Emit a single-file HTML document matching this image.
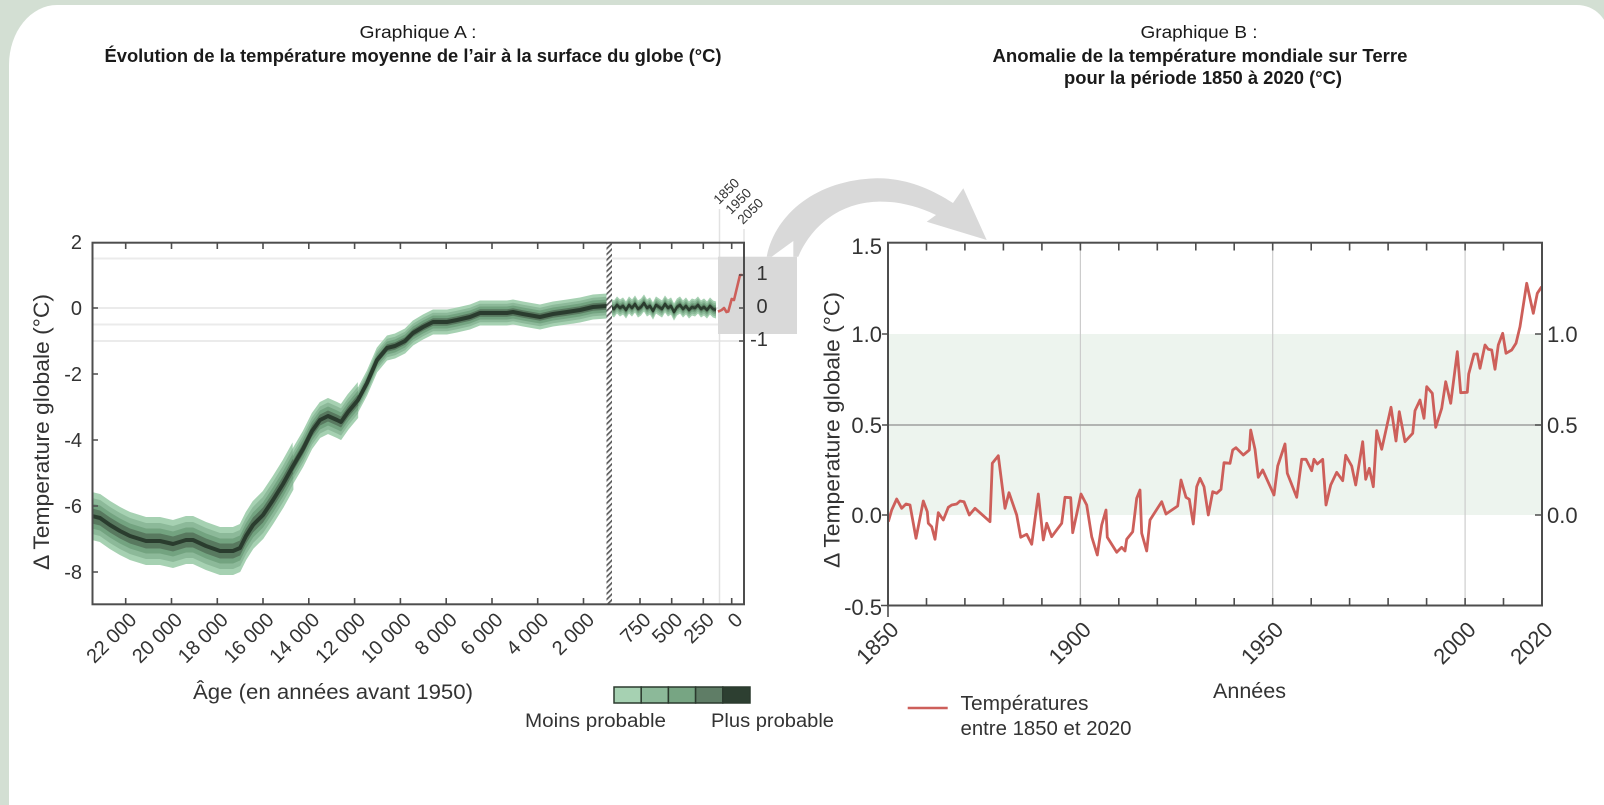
<!DOCTYPE html>
<html><head><meta charset="utf-8">
<style>
html,body{margin:0;padding:0;}
body{width:1604px;height:762px;overflow:hidden;background:#d3dfd3;position:relative;font-family:"Liberation Sans",Arial,sans-serif;}
#card{position:absolute;left:9px;top:5px;width:1600px;height:800px;background:#fff;border-top-left-radius:48px 60px;border-top-right-radius:32px;}
svg{position:absolute;left:0;top:0;}
</style></head>
<body>
<div id="card"></div>
<svg width="1604" height="762" viewBox="0 0 1604 762" font-family="Liberation Sans, Arial, sans-serif">
<defs>
<clipPath id="clipA"><rect x="93" y="243" width="651" height="361"/></clipPath>
<pattern id="hatch" width="4" height="4" patternUnits="userSpaceOnUse" patternTransform="rotate(45)">
<rect width="4" height="4" fill="#fff"/><rect width="1.7" height="4" fill="#5a5a5a"/></pattern>
</defs>

<!-- Titles -->
<g fill="#1a1a1a" text-anchor="middle">
<text x="418" y="38" font-size="17.5" textLength="117" lengthAdjust="spacingAndGlyphs">Graphique A :</text>
<text x="413" y="62" font-size="18" font-weight="bold" textLength="617" lengthAdjust="spacingAndGlyphs">Évolution de la température moyenne de l’air à la surface du globe (°C)</text>
<text x="1199" y="38" font-size="17.5" textLength="117" lengthAdjust="spacingAndGlyphs">Graphique B :</text>
<text x="1200" y="62" font-size="18" font-weight="bold" textLength="415" lengthAdjust="spacingAndGlyphs">Anomalie de la température mondiale sur Terre</text>
<text x="1203" y="84" font-size="18" font-weight="bold" textLength="278" lengthAdjust="spacingAndGlyphs">pour la période 1850 à 2020 (°C)</text>
</g>

<!-- ============ CHART A ============ -->
<g stroke="#ebebeb" stroke-width="2">
<line x1="93" y1="258.5" x2="744" y2="258.5"/>
<line x1="93" y1="308" x2="744" y2="308"/>
<line x1="93" y1="324.5" x2="744" y2="324.5"/>
<line x1="93" y1="341" x2="744" y2="341"/>
</g>
<g stroke="#e2e2e2" stroke-width="1.5">
<line x1="719.5" y1="209" x2="719.5" y2="604"/>
<line x1="744" y1="229" x2="744" y2="243"/>
</g>

<!-- gray box & arrow -->
<rect x="718" y="256.7" width="79" height="77.3" fill="#d9d9d9"/>
<path d="M766.7,256.7 C775,215 815,180 876.7,178.3 C905,178 930,188 953,203 L963.3,188.3 L986.7,240 L926.7,221.7 L936,215 C915,205 895,201 876.7,201.7 C840,203 812,225 798.3,256.7 Z" fill="#d9d9d9"/>
<path d="M771.7,256.7 L793.3,256.7 L793.3,241 Z" fill="#fff"/>

<!-- uncertainty bands -->
<g clip-path="url(#clipA)">
<g transform="scale(1,10)" fill="none" stroke-linejoin="round" stroke-linecap="butt">
<g stroke="#a6d1b2">
<path stroke-width="4.8" d="M88,51.5 L92,51.6 100,51.8 110,52.5 120,53.1 130,53.6 146,54.1 160,54.1 173,54.4 186,54.0 193,54.0 206,54.6 220,55.1 233,55.1 240,54.8 246,53.6 253,52.5 263,51.5 273,50.0 283,48.4 293,46.6"/>
<path stroke-width="3.6" d="M283,48.4 L293,46.6 303,44.9 312,43.1 320,42.0 328,41.6 337,42.0 341,42.2 348,41.2 358,40.0"/>
<path stroke-width="2.5" d="M348,41.2 L358,40.0 367,38.3 377,36.0 387,34.8 395,34.6 405,34.1 413,33.3 423,32.7 433,32.2 447,32.2 457,32.0 470,31.7 480,31.3 493,31.3 507,31.3 513,31.2 523,31.4 540,31.7 553,31.4 567,31.2 580,31.0 593,30.7 607,30.6"/>
<path stroke-width="1.7" d="M611,30.7 L614,30.9 617,30.5 620,30.8 623,30.6 626,31.0 629,30.5 632,30.8 635,30.4 638,30.9 641,30.7 644,30.3 647,30.8 650,30.6 653,31.1 656,30.5 659,30.7 662,30.9 665,30.4 668,30.8 671,30.6 674,31.2 677,30.7 680,30.5 683,30.9 686,30.6 689,31.0 692,30.7 695,30.8 698,30.5 701,30.9 704,30.7 707,31.0 710,30.6 713,30.9 716,31.0"/>
</g>
<g stroke="#8cb999">
<path stroke-width="3.6" d="M88,51.5 L92,51.6 100,51.8 110,52.5 120,53.1 130,53.6 146,54.1 160,54.1 173,54.4 186,54.0 193,54.0 206,54.6 220,55.1 233,55.1 240,54.8 246,53.6 253,52.5 263,51.5 273,50.0 283,48.4 293,46.6"/>
<path stroke-width="2.7" d="M283,48.4 L293,46.6 303,44.9 312,43.1 320,42.0 328,41.6 337,42.0 341,42.2 348,41.2 358,40.0"/>
<path stroke-width="1.85" d="M348,41.2 L358,40.0 367,38.3 377,36.0 387,34.8 395,34.6 405,34.1 413,33.3 423,32.7 433,32.2 447,32.2 457,32.0 470,31.7 480,31.3 493,31.3 507,31.3 513,31.2 523,31.4 540,31.7 553,31.4 567,31.2 580,31.0 593,30.7 607,30.6"/>
<path stroke-width="1.3" d="M611,30.7 L614,30.9 617,30.5 620,30.8 623,30.6 626,31.0 629,30.5 632,30.8 635,30.4 638,30.9 641,30.7 644,30.3 647,30.8 650,30.6 653,31.1 656,30.5 659,30.7 662,30.9 665,30.4 668,30.8 671,30.6 674,31.2 677,30.7 680,30.5 683,30.9 686,30.6 689,31.0 692,30.7 695,30.8 698,30.5 701,30.9 704,30.7 707,31.0 710,30.6 713,30.9 716,31.0"/>
</g>
<g stroke="#73a380">
<path stroke-width="2.5" d="M88,51.5 L92,51.6 100,51.8 110,52.5 120,53.1 130,53.6 146,54.1 160,54.1 173,54.4 186,54.0 193,54.0 206,54.6 220,55.1 233,55.1 240,54.8 246,53.6 253,52.5 263,51.5 273,50.0 283,48.4 293,46.6"/>
<path stroke-width="1.9" d="M283,48.4 L293,46.6 303,44.9 312,43.1 320,42.0 328,41.6 337,42.0 341,42.2 348,41.2 358,40.0"/>
<path stroke-width="1.3" d="M348,41.2 L358,40.0 367,38.3 377,36.0 387,34.8 395,34.6 405,34.1 413,33.3 423,32.7 433,32.2 447,32.2 457,32.0 470,31.7 480,31.3 493,31.3 507,31.3 513,31.2 523,31.4 540,31.7 553,31.4 567,31.2 580,31.0 593,30.7 607,30.6"/>
<path stroke-width="0.9" d="M611,30.7 L614,30.9 617,30.5 620,30.8 623,30.6 626,31.0 629,30.5 632,30.8 635,30.4 638,30.9 641,30.7 644,30.3 647,30.8 650,30.6 653,31.1 656,30.5 659,30.7 662,30.9 665,30.4 668,30.8 671,30.6 674,31.2 677,30.7 680,30.5 683,30.9 686,30.6 689,31.0 692,30.7 695,30.8 698,30.5 701,30.9 704,30.7 707,31.0 710,30.6 713,30.9 716,31.0"/>
</g>
<g stroke="#58795f">
<path stroke-width="1.5" d="M88,51.5 L92,51.6 100,51.8 110,52.5 120,53.1 130,53.6 146,54.1 160,54.1 173,54.4 186,54.0 193,54.0 206,54.6 220,55.1 233,55.1 240,54.8 246,53.6 253,52.5 263,51.5 273,50.0 283,48.4 293,46.6"/>
<path stroke-width="1.1" d="M283,48.4 L293,46.6 303,44.9 312,43.1 320,42.0 328,41.6 337,42.0 341,42.2 348,41.2 358,40.0"/>
<path stroke-width="0.75" d="M348,41.2 L358,40.0 367,38.3 377,36.0 387,34.8 395,34.6 405,34.1 413,33.3 423,32.7 433,32.2 447,32.2 457,32.0 470,31.7 480,31.3 493,31.3 507,31.3 513,31.2 523,31.4 540,31.7 553,31.4 567,31.2 580,31.0 593,30.7 607,30.6"/>
<path stroke-width="0.55" d="M611,30.7 L614,30.9 617,30.5 620,30.8 623,30.6 626,31.0 629,30.5 632,30.8 635,30.4 638,30.9 641,30.7 644,30.3 647,30.8 650,30.6 653,31.1 656,30.5 659,30.7 662,30.9 665,30.4 668,30.8 671,30.6 674,31.2 677,30.7 680,30.5 683,30.9 686,30.6 689,31.0 692,30.7 695,30.8 698,30.5 701,30.9 704,30.7 707,31.0 710,30.6 713,30.9 716,31.0"/>
</g>
</g>
<g fill="none" stroke="#2a3c2e" stroke-linejoin="round">
<path stroke-width="4" d="M88,515 L92,516 100,518 110,525 120,531 130,536 146,541 160,541 173,544 186,540 193,540 206,546 220,551 233,551 240,548 246,536 253,525 263,515 273,500 283,484 293,466 303,449 312,431 320,420 328,416 337,420 341,422 348,412 358,400 367,383 377,360 387,348 395,346 405,341 413,333 423,327 433,322 447,322 457,320 470,317 480,313 493,313 507,313 513,312 523,314 540,317 553,314 567,312 580,310 593,307 607,306"/>
<path stroke-width="2.6" d="M611,307 L614,309 617,305 620,308 623,306 626,310 629,305 632,308 635,304 638,309 641,307 644,303 647,308 650,306 653,311 656,305 659,307 662,309 665,304 668,308 671,306 674,312 677,307 680,305 683,309 686,306 689,310 692,307 695,308 698,305 701,309 704,307 707,310 710,306 713,309 716,310"/>
</g>
<path d="M718,311.7 L721.7,310 724,308 726.5,312 728.3,311.5 731.7,299 734,300 740,275 742.5,275" fill="none" stroke="#cd5f5a" stroke-width="2.6" stroke-linejoin="round"/>
</g>

<rect x="606.5" y="243" width="5.5" height="361" fill="url(#hatch)"/>

<!-- axes A -->
<rect x="92.5" y="242.7" width="651.5" height="361.6" fill="none" stroke="#4d4d4d" stroke-width="2"/>
<path stroke="#4d4d4d" stroke-width="1.6" fill="none" d="M125.7,243v6 M171.5,243v6 M217.3,243v6 M263,243v6 M308.8,243v6 M354.6,243v6 M400.4,243v6 M446.2,243v6 M492,243v6 M537.7,243v6 M583.5,243v6 M640,243v6 M671.7,243v6 M703.3,243v6 M731.7,243v6
M125.7,604v-6 M171.5,604v-6 M217.3,604v-6 M263,604v-6 M308.8,604v-6 M354.6,604v-6 M400.4,604v-6 M446.2,604v-6 M492,604v-6 M537.7,604v-6 M583.5,604v-6 M640,604v-6 M671.7,604v-6 M703.3,604v-6 M731.7,604v-6
M93,308h5 M93,374h5 M93,440h5 M93,506h5 M93,572h5
M744,275h-5 M744,308h-5 M744,341h-5"/>

<g font-size="20" fill="#333" text-anchor="end">
<text x="82" y="249">2</text>
<text x="82" y="315">0</text>
<text x="82" y="381">-2</text>
<text x="82" y="447">-4</text>
<text x="82" y="513">-6</text>
<text x="82" y="579">-8</text>
</g>
<g font-size="20" fill="#333" text-anchor="middle">
<text x="762" y="280">1</text>
<text x="762" y="313">0</text>
<text x="759" y="346">-1</text>
</g>
<g font-size="13.5" fill="#333">
<text transform="translate(719,205) rotate(-45)">1850</text>
<text transform="translate(731,215) rotate(-45)">1950</text>
<text transform="translate(743,225) rotate(-45)">2050</text>
</g>
<g font-size="20" fill="#333" text-anchor="end">
<text transform="translate(137.7,621) rotate(-45)">22 000</text>
<text transform="translate(183.5,621) rotate(-45)">20 000</text>
<text transform="translate(229.3,621) rotate(-45)">18 000</text>
<text transform="translate(275,621) rotate(-45)">16 000</text>
<text transform="translate(320.8,621) rotate(-45)">14 000</text>
<text transform="translate(366.6,621) rotate(-45)">12 000</text>
<text transform="translate(412.4,621) rotate(-45)">10 000</text>
<text transform="translate(458.2,621) rotate(-45)">8 000</text>
<text transform="translate(504,621) rotate(-45)">6 000</text>
<text transform="translate(549.7,621) rotate(-45)">4 000</text>
<text transform="translate(595.5,621) rotate(-45)">2 000</text>
<text transform="translate(652,621) rotate(-45)">750</text>
<text transform="translate(683.7,621) rotate(-45)">500</text>
<text transform="translate(715.3,621) rotate(-45)">250</text>
<text transform="translate(743.7,621) rotate(-45)">0</text>
</g>
<text transform="translate(41,432) rotate(-90)" text-anchor="middle" dy="0.36em" font-size="22" fill="#333" textLength="276" lengthAdjust="spacingAndGlyphs">Δ Temperature globale (°C)</text>
<text x="333" y="699" text-anchor="middle" font-size="21" fill="#333" textLength="280" lengthAdjust="spacingAndGlyphs">Âge (en années avant 1950)</text>

<g stroke="#2b3a2e" stroke-width="1.5">
<rect x="614" y="687" width="27.2" height="16" fill="#a6d1b2"/>
<rect x="641.2" y="687" width="27.2" height="16" fill="#8cb999"/>
<rect x="668.4" y="687" width="27.2" height="16" fill="#77a583"/>
<rect x="695.6" y="687" width="27.2" height="16" fill="#5f7d66"/>
<rect x="722.8" y="687" width="27.2" height="16" fill="#2d3f31"/>
</g>
<text x="525" y="727" font-size="19" fill="#333" textLength="141" lengthAdjust="spacingAndGlyphs">Moins probable</text>
<text x="711" y="727" font-size="19" fill="#333" textLength="123" lengthAdjust="spacingAndGlyphs">Plus probable</text>

<!-- ============ CHART B ============ -->
<rect x="888" y="334" width="654" height="181" fill="#edf4ee"/>
<g stroke="#cccccc" stroke-width="1.2">
<line x1="1080.4" y1="243" x2="1080.4" y2="605"/>
<line x1="1272.7" y1="243" x2="1272.7" y2="605"/>
<line x1="1465.1" y1="243" x2="1465.1" y2="605"/>
</g>
<line x1="888" y1="425" x2="1542" y2="425" stroke="#9e9e9e" stroke-width="1.4"/>

<path fill="none" stroke="#cd5f5a" stroke-width="2.8" stroke-linejoin="round" d="M888.3,521.7 L891.7,510 896.7,499 901.7,508.3 906,504 910,505 916,538.3 923.3,501 927.3,511.7 928.3,523.3 931.7,526.7 935,539.3 938.3,512.7 943.3,520 948.3,507.3 951.7,505 956.7,504 960,501 964,501.7 969.3,515 975,508.3 990,521.7 992.3,463.3 998.3,455.7 1005,508.3 1009,492.7 1016.7,515 1020.7,537.3 1026.7,534.3 1031.7,544.3 1038.3,494 1043.3,540 1046.7,523.3 1051.7,536.7 1061.7,523.3 1065,497.3 1070.7,497.7 1072.7,532.7 1081,494 1086.7,505 1091.7,536.7 1097.3,555 1101.7,525 1106,510 1107.3,537.3 1116.7,552.3 1121.7,547.3 1125,551 1126.7,539.3 1132.7,531.7 1136.7,498.3 1140,490 1141.7,533.3 1146.7,551 1150,520 1161.7,501.7 1166,514 1177.7,506 1181,480 1186,497.3 1189.3,499.3 1193.3,524 1196.7,486.7 1200,478.3 1204,486.7 1208.3,515 1212.7,491.7 1216.7,493.3 1221,489.3 1224,462.7 1230,463.3 1232.7,450 1236,447.7 1243.3,455 1249.3,450 1250.7,430 1255,449.3 1258.3,477.3 1262.7,470 1274,495 1277.7,466 1285,444 1287.3,473.3 1296.7,497.3 1301.7,459.3 1306,459.3 1311.7,470.7 1314,459.3 1317.3,464 1322.7,459.3 1326,505 1330.7,485 1336.7,472.3 1342.7,480.7 1345.7,455.3 1351.7,466 1355.7,485 1362.7,441.7 1365.7,479.3 1369.3,468.3 1373.3,486.7 1376.7,430.7 1381.7,449.3 1391,407.3 1396,441 1399.3,411.7 1405,441.7 1412.7,433.3 1415,410.7 1420,400 1424,418.3 1426.7,386.7 1432.3,393.3 1435.7,427.3 1441.7,408.3 1445.7,381.7 1450.7,403.3 1457.3,351.7 1460.7,392.7 1467.3,392.3 1468.7,374 1474,354 1477.3,354 1480,368.3 1485,345 1488.3,349.3 1491.7,350 1495,369.3 1498.3,345 1502.7,333.3 1506,353.3 1511.7,350 1516,343.3 1520,326.7 1526.7,283.3 1533.3,313.3 1537.3,293.3 1541.7,286.7"/>

<rect x="888" y="242.7" width="654" height="362.8" fill="none" stroke="#4d4d4d" stroke-width="2"/>
<path stroke="#4d4d4d" stroke-width="1.6" fill="none" d="M926.5,243.5v7 M964.9,243.5v7 M1003.4,243.5v7 M1041.9,243.5v7 M1080.4,243.5v7 M1118.8,243.5v7 M1157.3,243.5v7 M1195.8,243.5v7 M1234.2,243.5v7 M1272.7,243.5v7 M1311.2,243.5v7 M1349.6,243.5v7 M1388.1,243.5v7 M1426.6,243.5v7 M1465.1,243.5v7 M1503.5,243.5v7
M926.5,605v-7 M964.9,605v-7 M1003.4,605v-7 M1041.9,605v-7 M1080.4,605v-7 M1118.8,605v-7 M1157.3,605v-7 M1195.8,605v-7 M1234.2,605v-7 M1272.7,605v-7 M1311.2,605v-7 M1349.6,605v-7 M1388.1,605v-7 M1426.6,605v-7 M1465.1,605v-7 M1503.5,605v-7
M888,334h-6 M888,425h-6 M888,515h-6 M888,605.5h-7 M888,605v12
M1542,334h-7 M1542,425h-7 M1542,515h-7"/>

<g font-size="22" fill="#333" text-anchor="end">
<text x="882" y="254">1.5</text>
<text x="882" y="342">1.0</text>
<text x="882" y="433">0.5</text>
<text x="882" y="523">0.0</text>
<text x="882" y="615">-0.5</text>
</g>
<g font-size="22" fill="#333">
<text x="1547" y="342">1.0</text>
<text x="1547" y="433">0.5</text>
<text x="1547" y="523">0.0</text>
</g>
<g font-size="22" fill="#333" text-anchor="end">
<text transform="translate(900,631) rotate(-45)">1850</text>
<text transform="translate(1092.4,631) rotate(-45)">1900</text>
<text transform="translate(1284.7,631) rotate(-45)">1950</text>
<text transform="translate(1477.1,631) rotate(-45)">2000</text>
<text transform="translate(1554,631) rotate(-45)">2020</text>
</g>
<text transform="translate(831.5,430) rotate(-90)" text-anchor="middle" dy="0.36em" font-size="22" fill="#333" textLength="276" lengthAdjust="spacingAndGlyphs">Δ Temperature globale (°C)</text>
<text x="1249.5" y="698" text-anchor="middle" font-size="21" fill="#333" textLength="73" lengthAdjust="spacingAndGlyphs">Années</text>

<line x1="907.7" y1="708" x2="947.7" y2="708" stroke="#cd5f5a" stroke-width="2.6"/>
<text x="960.5" y="710" font-size="20" fill="#333" textLength="128" lengthAdjust="spacingAndGlyphs">Températures</text>
<text x="960.5" y="735" font-size="20" fill="#333" textLength="171" lengthAdjust="spacingAndGlyphs">entre 1850 et 2020</text>
</svg>
</body></html>
